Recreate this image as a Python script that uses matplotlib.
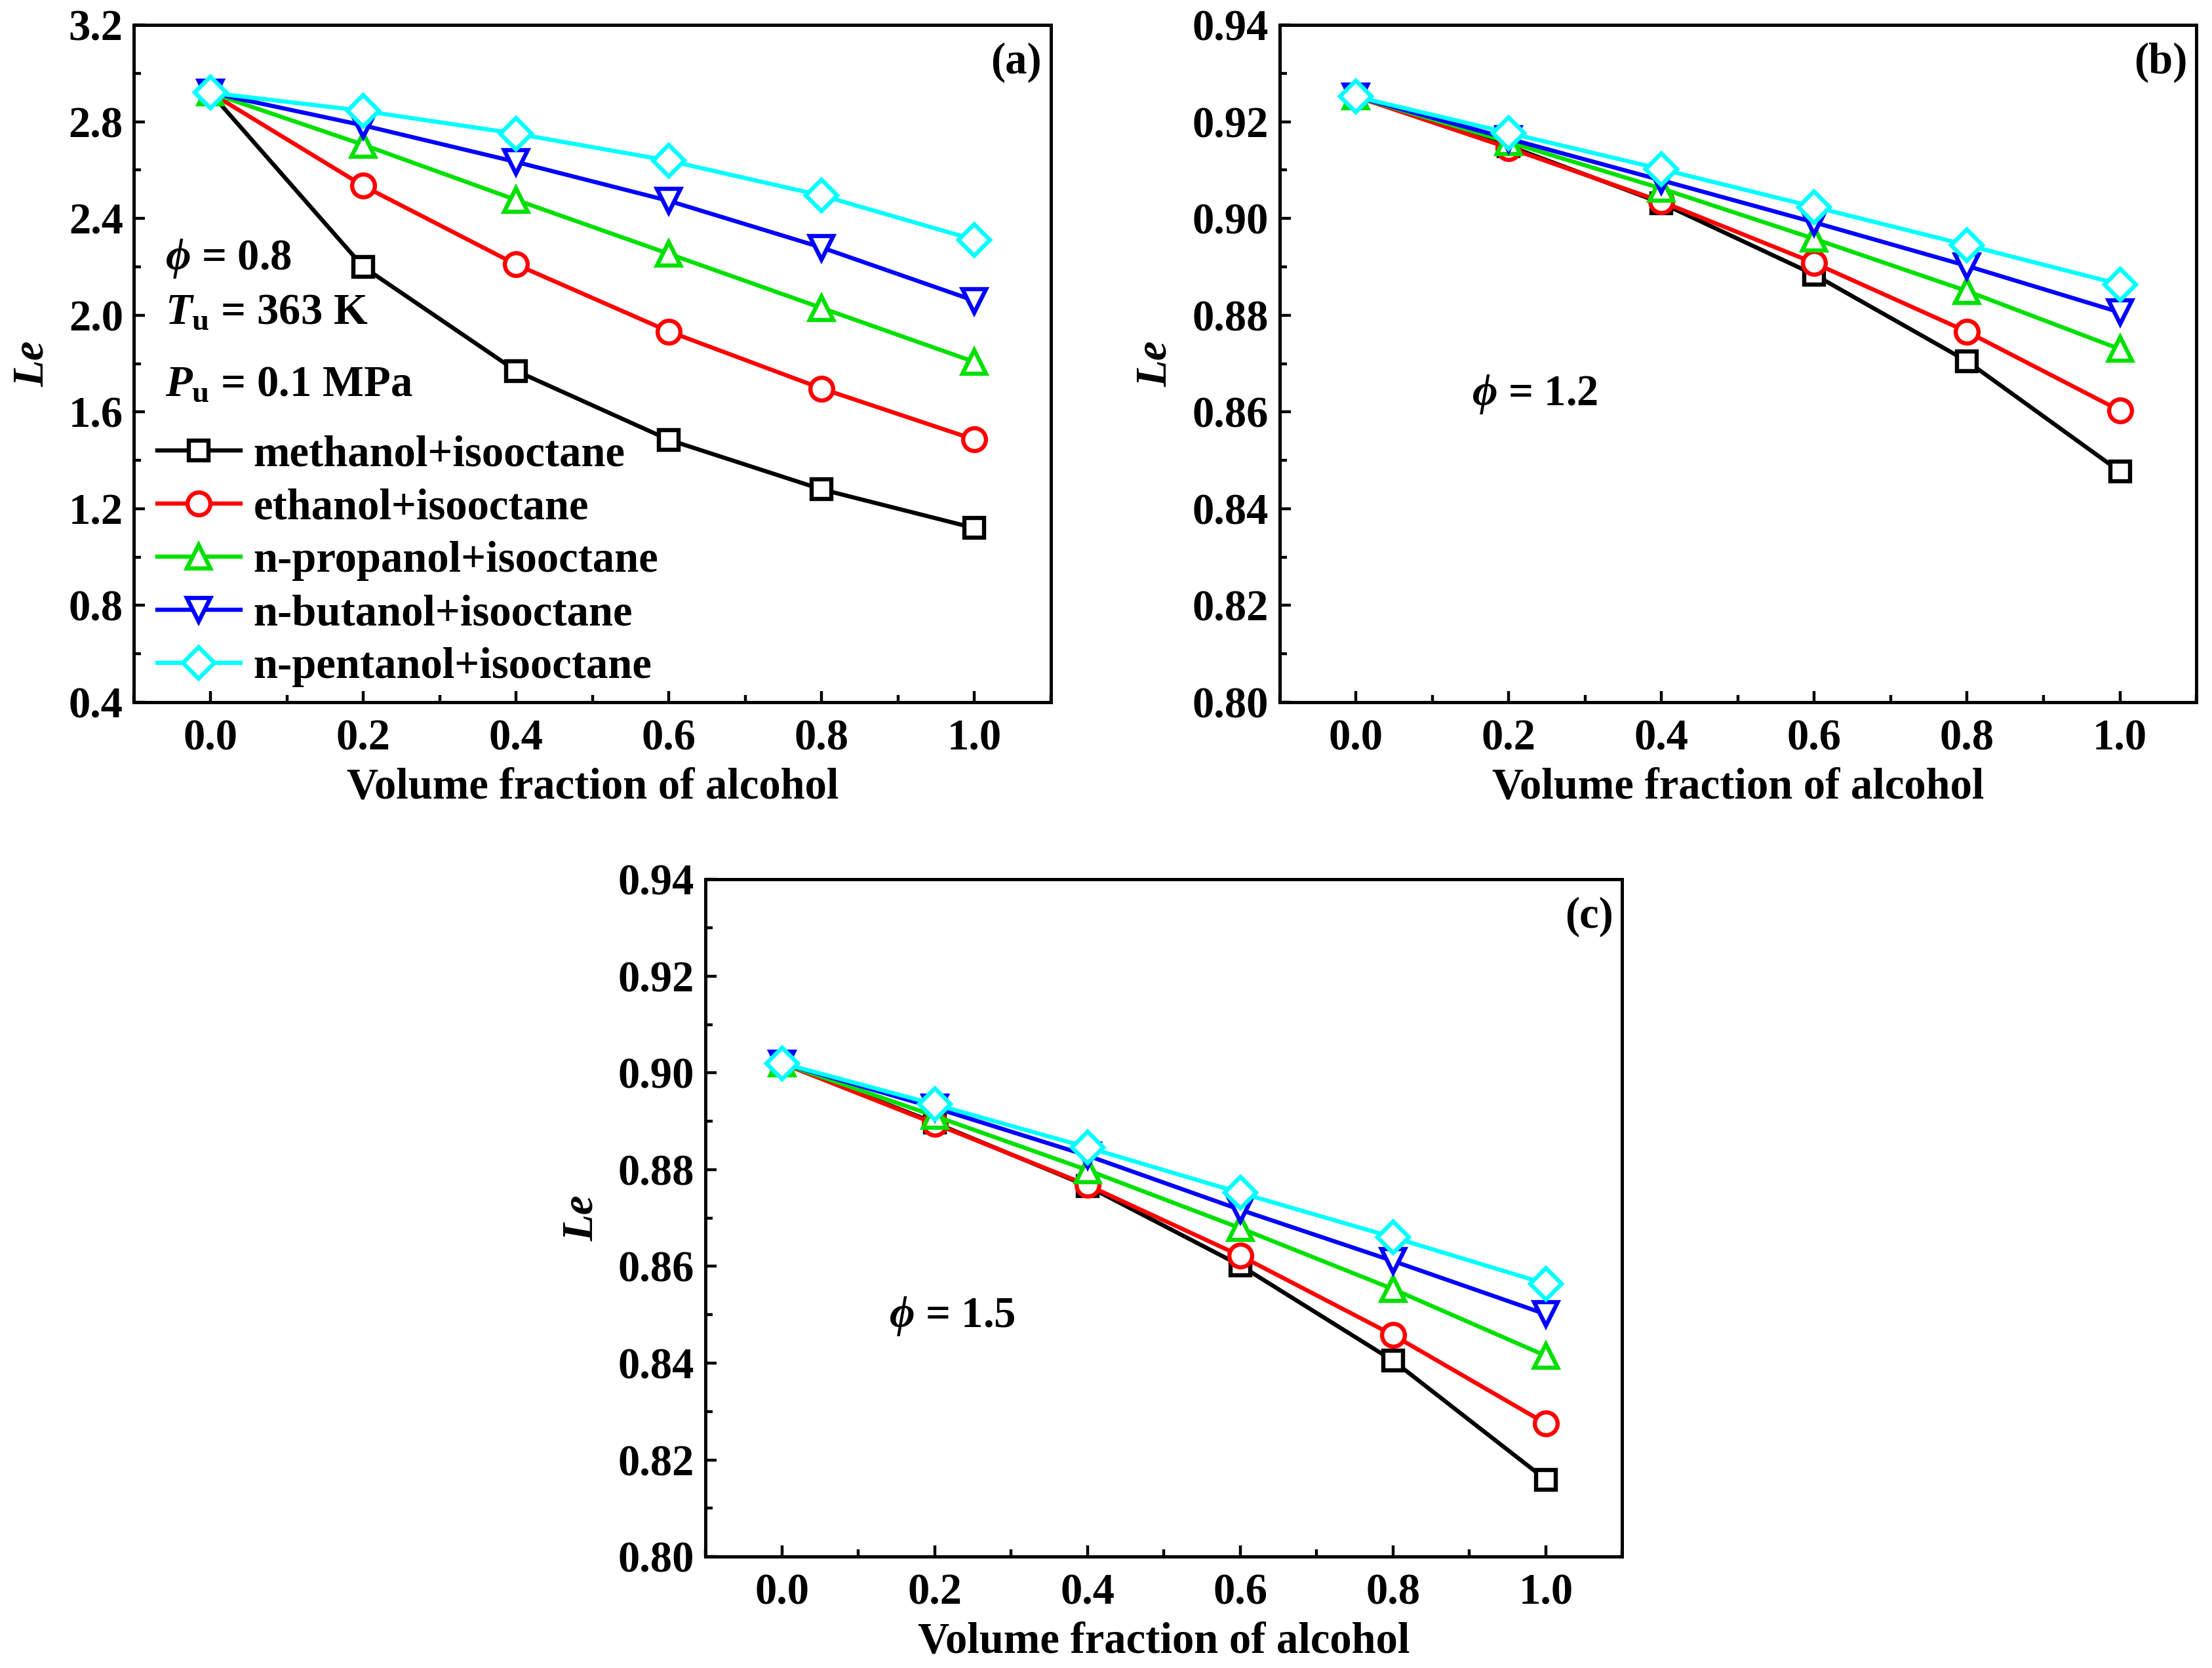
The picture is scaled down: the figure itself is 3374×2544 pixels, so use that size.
import matplotlib
matplotlib.use('Agg')
import matplotlib.pyplot as plt
from matplotlib.ticker import MultipleLocator

# Données
x_frac = [0.0, 0.2, 0.4, 0.6, 0.8, 1.0]
series_names = ['methanol+isooctane', 'ethanol+isooctane', 'n-propanol+isooctane',
                'n-butanol+isooctane', 'n-pentanol+isooctane']

# (a) phi = 0.8
le_a_methanol = [2.92, 2.20, 1.77, 1.485, 1.28, 1.12]
le_a_ethanol = [2.92, 2.535, 2.21, 1.933, 1.697, 1.486]
le_a_propanol = [2.92, 2.705, 2.477, 2.254, 2.03, 1.807]
le_a_butanol = [2.92, 2.785, 2.634, 2.473, 2.28, 2.06]
le_a_pentanol = [2.92, 2.845, 2.751, 2.639, 2.495, 2.312]

# (b) phi = 1.2
le_b_methanol = [0.9252, 0.9150, 0.9032, 0.8884, 0.8705, 0.8477]
le_b_ethanol = [0.9252, 0.9146, 0.9035, 0.8908, 0.8766, 0.8603]
le_b_propanol = [0.9252, 0.9158, 0.9062, 0.8958, 0.8850, 0.8730]
le_b_butanol = [0.9252, 0.9165, 0.9079, 0.8992, 0.8902, 0.8806]
le_b_pentanol = [0.9252, 0.9177, 0.9102, 0.9024, 0.8945, 0.8864]

# (c) phi = 1.5
le_c_methanol = [0.9020, 0.8897, 0.8766, 0.8602, 0.8405, 0.8159]
le_c_ethanol = [0.9020, 0.8895, 0.8768, 0.8622, 0.8458, 0.8275]
le_c_propanol = [0.9020, 0.8911, 0.8799, 0.8679, 0.8553, 0.8415]
le_c_butanol = [0.9020, 0.8928, 0.8829, 0.8717, 0.8611, 0.8501]
le_c_pentanol = [0.9020, 0.8935, 0.8846, 0.8752, 0.8660, 0.8564]

colors = ['black', '#ff0000', '#00e000', '#0000ff', '#00ffff']
markers = ['s', 'o', '^', 'v', 'D']
msizes = [11, 12.5, 13, 13, 12]

plt.rcParams['font.family'] = ['Liberation Serif', 'DejaVu Serif']
plt.rcParams['font.weight'] = 'bold'
plt.rcParams['font.size'] = 24
plt.rcParams['mathtext.fontset'] = 'custom'
plt.rcParams['mathtext.rm'] = 'Liberation Serif:bold'
plt.rcParams['mathtext.it'] = 'Liberation Serif:italic:bold'
plt.rcParams['mathtext.bf'] = 'Liberation Serif:bold'

fig = plt.figure(figsize=(16.87, 12.72), dpi=200)
ax_a = fig.add_axes([0.0606, 0.579, 0.4145, 0.406])
ax_b = fig.add_axes([0.5784, 0.579, 0.4145, 0.406])
ax_c = fig.add_axes([0.3189, 0.0668, 0.4145, 0.406])


def setup_axis(ax, ylim, ymajor, yminor, yfmt):
    ax.set_xlim(-0.1, 1.1)
    ax.set_ylim(*ylim)
    ax.xaxis.set_major_locator(MultipleLocator(0.2))
    ax.xaxis.set_minor_locator(MultipleLocator(0.1))
    ax.yaxis.set_major_locator(MultipleLocator(ymajor))
    ax.yaxis.set_minor_locator(MultipleLocator(yminor))
    ax.xaxis.set_major_formatter(plt.FormatStrFormatter('%.1f'))
    ax.yaxis.set_major_formatter(plt.FormatStrFormatter(yfmt))
    ax.tick_params(which='both', direction='in', top=False, right=False, width=1.6)
    ax.tick_params(which='major', length=6)
    ax.tick_params(which='minor', length=4)
    ax.tick_params(axis='x', pad=9)
    ax.tick_params(axis='y', pad=6)
    for sp in ax.spines.values():
        sp.set_linewidth(1.8)
    ax.set_xlabel('Volume fraction of alcohol', fontweight='bold', labelpad=5)
    ax.set_ylabel('Le', fontweight='bold', style='italic', labelpad=9)


def draw_series(ax, data):
    for i, y in enumerate(data):
        ax.plot(x_frac, y, color=colors[i], marker=markers[i], markersize=msizes[i],
                markerfacecolor='white', markeredgewidth=2.3, linewidth=2.3,
                label=series_names[i], clip_on=False)


draw_series(ax_a, [le_a_methanol, le_a_ethanol, le_a_propanol, le_a_butanol, le_a_pentanol])
setup_axis(ax_a, (0.4, 3.2), 0.4, 0.2, '%.1f')
ax_a.text(0.99, 0.975, '(a)', transform=ax_a.transAxes, ha='right', va='top')
ax_a.text(0.034, 0.655, r'$\phi$ = 0.8', transform=ax_a.transAxes, ha='left', va='center')
ax_a.text(0.034, 0.575, r'$T_{\mathbf{u}}$ = 363 K', transform=ax_a.transAxes, ha='left', va='center')
ax_a.text(0.034, 0.468, r'$P_{\mathbf{u}}$ = 0.1 MPa', transform=ax_a.transAxes, ha='left', va='center')
ax_a.legend(loc='upper left', bbox_to_anchor=(-0.008, 0.44), frameon=False,
            handlelength=1.9, handletextpad=0.3, labelspacing=0.3, borderaxespad=0.3)

draw_series(ax_b, [le_b_methanol, le_b_ethanol, le_b_propanol, le_b_butanol, le_b_pentanol])
setup_axis(ax_b, (0.80, 0.94), 0.02, 0.01, '%.2f')
ax_b.text(0.99, 0.975, '(b)', transform=ax_b.transAxes, ha='right', va='top')
ax_b.text(0.21, 0.455, r'$\phi$ = 1.2', transform=ax_b.transAxes, ha='left', va='center')

draw_series(ax_c, [le_c_methanol, le_c_ethanol, le_c_propanol, le_c_butanol, le_c_pentanol])
setup_axis(ax_c, (0.80, 0.94), 0.02, 0.01, '%.2f')
ax_c.text(0.99, 0.975, '(c)', transform=ax_c.transAxes, ha='right', va='top')
ax_c.text(0.20, 0.355, r'$\phi$ = 1.5', transform=ax_c.transAxes, ha='left', va='center')

fig.savefig('out.png', dpi=200)
